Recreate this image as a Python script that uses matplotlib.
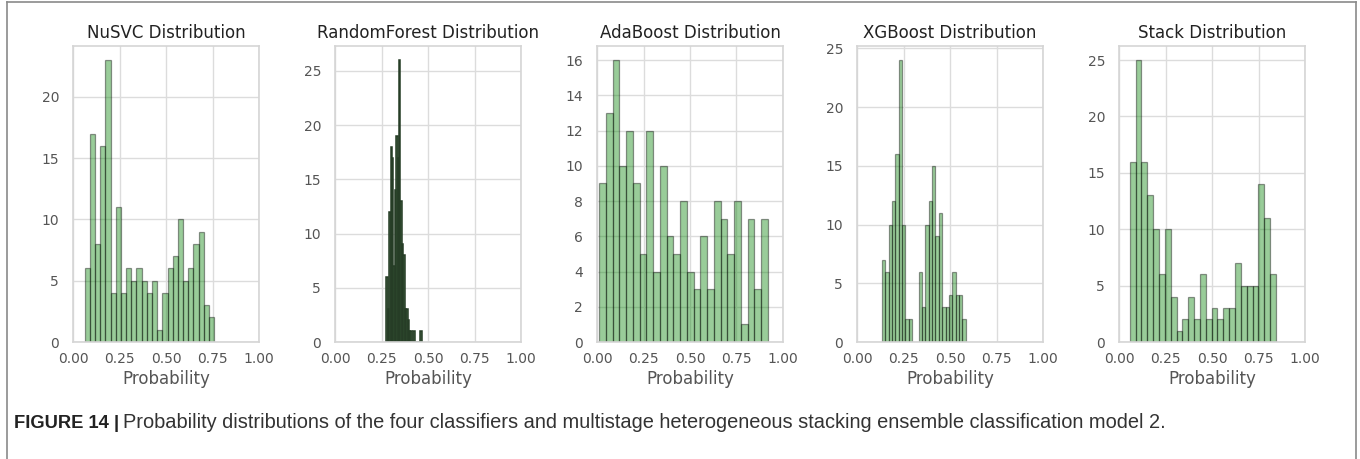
import numpy as np
import matplotlib
matplotlib.use("Agg")
import matplotlib.pyplot as plt
from matplotlib.lines import Line2D

# bin counts of predicted probabilities for each model (25 bins over the occupied range)
nusvc_counts = [6, 17, 8, 16, 23, 4, 11, 4, 6, 5, 6, 5, 4, 5, 1, 4, 6, 7, 10, 5, 6, 8, 9, 3, 2]
nusvc_range = (0.0625, 0.759)

rf_counts = [6, 3, 12, 18, 17, 7, 14, 19, 17, 26, 13, 9, 8, 3, 3, 2, 1, 1, 0, 1, 0, 0, 0, 0, 1]
rf_range = (0.276, 0.466)

ada_counts = [9, 13, 16, 10, 12, 9, 5, 12, 4, 10, 6, 5, 8, 4, 3, 6, 3, 8, 7, 5, 8, 1, 7, 3, 7]
ada_range = (0.011, 0.919)

xgb_counts = [7, 6, 10, 12, 16, 24, 10, 2, 2, 0, 0, 6, 3, 10, 12, 15, 9, 11, 3, 3, 4, 6, 4, 4, 2]
xgb_range = (0.134, 0.584)

stack_counts = [16, 25, 16, 13, 10, 6, 10, 4, 1, 2, 4, 2, 6, 2, 3, 2, 3, 3, 7, 5, 5, 5, 14, 11, 6]
stack_range = (0.0575, 0.844)

titles = ["NuSVC Distribution", "RandomForest Distribution", "AdaBoost Distribution",
          "XGBoost Distribution", "Stack Distribution"]
xticks = [0.0, 0.25, 0.5, 0.75, 1.0]
caption_bold = "FIGURE 14 |"
caption_text = ("Probability distributions of the four classifiers and multistage "
                "heterogeneous stacking ensemble classification model 2.")

panels = [(nusvc_counts, nusvc_range), (rf_counts, rf_range), (ada_counts, ada_range),
          (xgb_counts, xgb_range), (stack_counts, stack_range)]

fig = plt.figure(figsize=(13.6, 4.59), dpi=100)
lefts = [73, 335, 597, 857, 1119]
W, H = 1360, 459

for i, (counts, (lo, hi)) in enumerate(panels):
    ax = fig.add_axes([lefts[i] / W, 1 - 342 / H, 186 / W, 296 / H])
    edges = np.linspace(lo, hi, len(counts) + 1)
    centers = (edges[:-1] + edges[1:]) / 2
    if titles[i].startswith("RandomForest"):
        # narrow bins: the outlines cover most of each bar
        ax.hist(centers, bins=edges, weights=counts, facecolor=(0.2, 0.36, 0.2, 0.85),
                edgecolor="#263d26", linewidth=1.1)
    else:
        ax.hist(centers, bins=edges, weights=counts, color="green", alpha=0.4,
                edgecolor="black", linewidth=0.9)
    ax.set_xticks(xticks)
    ax.set_xticklabels(["%.2f" % t for t in xticks])
    ax.set_xlim(0.0, 1.0)
    ax.set_ylim(0, max(counts) * 1.05)
    ax.set_axisbelow(True)
    ax.grid(True, color="#dcdcdc", linewidth=1.0)
    for s in ax.spines.values():
        s.set_color("#d5d5d5")
        s.set_linewidth(1.2)
    ax.tick_params(length=0, labelsize=10, colors="#555555")
    ax.tick_params(axis="x", pad=7)
    ax.tick_params(axis="y", pad=10)
    ax.set_title(titles[i], fontsize=12, color="#222222", pad=6)
    ax.set_xlabel("Probability", fontsize=12, color="#555555", labelpad=3)

# figure frame and caption
frame = dict(color="#8a8a8a", linewidth=1.2, transform=fig.transFigure)
fig.add_artist(Line2D([7 / W, 7 / W], [0, 1 - 1.5 / H], **frame))
fig.add_artist(Line2D([1356 / W, 1356 / W], [0, 1 - 1.5 / H], **frame))
fig.add_artist(Line2D([7 / W, 1356 / W], [1 - 1.5 / H, 1 - 1.5 / H], **frame))

cap_y = 1 - 423 / H
t1 = fig.text(14 / W, cap_y, caption_bold, fontsize=13.2, fontweight="bold",
              family="Liberation Sans", color="#222222", va="center")
fig.canvas.draw()
bb = t1.get_window_extent()
fig.text((bb.x1 + 4) / W, cap_y, caption_text, fontsize=14.4,
         family="Liberation Sans", color="#333333", va="center")

fig.savefig("out.png", dpi=100)
